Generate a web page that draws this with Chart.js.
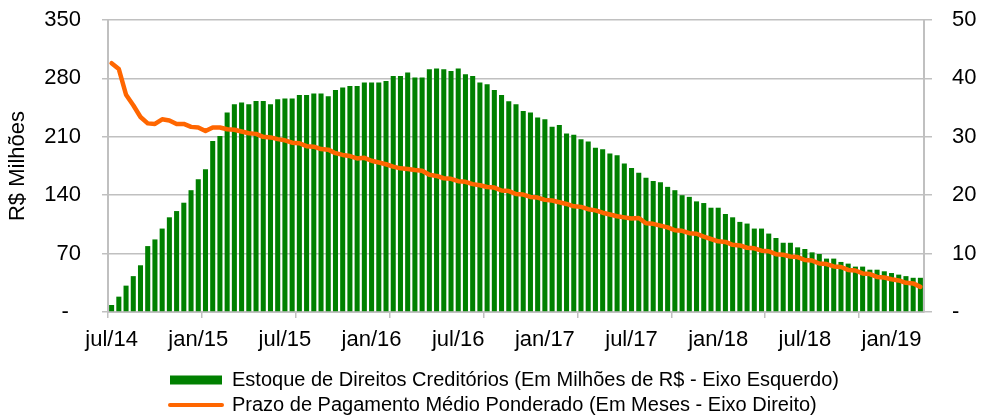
<!DOCTYPE html>
<html><head><meta charset="utf-8">
<script src="https://cdn.jsdelivr.net/npm/chart.js@4/dist/chart.umd.min.js"></script>
<style>html,body{margin:0;padding:0;background:#fff}</style>
</head><body>
<canvas id="c" width="984" height="417"></canvas>
<script>
// Months covered (two observations per month)
const months = [
  'jul/14','ago/14','set/14','out/14','nov/14','dez/14',
  'jan/15','fev/15','mar/15','abr/15','mai/15','jun/15','jul/15','ago/15','set/15','out/15','nov/15','dez/15',
  'jan/16','fev/16','mar/16','abr/16','mai/16','jun/16','jul/16','ago/16','set/16','out/16','nov/16','dez/16',
  'jan/17','fev/17','mar/17','abr/17','mai/17','jun/17','jul/17','ago/17','set/17','out/17','nov/17','dez/17',
  'jan/18','fev/18','mar/18','abr/18','mai/18','jun/18','jul/18','ago/18','set/18','out/18','nov/18','dez/18',
  'jan/19','fev/19','mar/19'
];
const categories = months.flatMap(m => [m + ' (1ª quinzena)', m + ' (2ª quinzena)']).slice(0, 113);

// Estoque de Direitos Creditórios (R$ milhões) - left axis
const stockValues = [
  8.4, 18.4, 31.6, 43, 56, 79, 87, 100, 113.5, 121,
  131, 146, 159, 171, 205, 211, 239, 249, 251, 249,
  253, 253, 249, 255, 256, 256, 260, 260, 262, 262,
  258.5, 266, 269, 271, 271, 275, 275, 275, 277, 283,
  283, 287, 281, 281, 291, 292, 291, 289, 292, 285,
  283, 275, 273, 266, 260, 252.5, 249, 241, 239, 233,
  231, 222, 224, 214, 212.5, 207, 204.5, 197, 195, 190,
  188, 178, 172.6, 167, 161, 157, 155.5, 150, 146, 140,
  138, 132.6, 130.6, 125, 125, 117.5, 113.5, 108, 106, 100,
  100, 94, 88.7, 83, 83, 77.5, 75.5, 71.5, 69.5, 64,
  64, 60, 58, 54.4, 54.4, 50.7, 50.7, 48.8, 46.7, 44.8,
  43, 41, 41
];

// Prazo de Pagamento Médio Ponderado (meses) - right axis
const termValues = [
  42.6, 41.6, 37.2, 35.4, 33.4, 32.3, 32.2, 33.0, 32.8, 32.2,
  32.2, 31.7, 31.6, 31.0, 31.6, 31.6, 31.3, 31.2, 30.9, 30.6,
  30.5, 30.0, 29.9, 29.6, 29.4, 29.0, 28.9, 28.4, 28.3, 27.9,
  27.8, 27.2, 26.9, 26.7, 26.3, 26.4, 25.9, 25.6, 25.3, 24.9,
  24.6, 24.5, 24.3, 24.2, 23.5, 23.3, 22.9, 22.8, 22.4, 22.3,
  21.9, 21.7, 21.4, 21.3, 20.8, 20.7, 20.2, 20.1, 19.7, 19.6,
  19.2, 19.1, 18.8, 18.5, 18.1, 18.0, 17.6, 17.4, 17.0, 16.7,
  16.4, 16.2, 16.0, 16.1, 15.2, 15.1, 14.8, 14.5, 14.0, 13.9,
  13.5, 13.4, 12.9, 12.5, 12.1, 12.0, 11.5, 11.4, 11.0, 10.9,
  10.5, 10.4, 9.9, 9.8, 9.5, 9.4, 8.9, 8.8, 8.3, 8.2,
  7.8, 7.7, 7.2, 7.1, 6.6, 6.5, 6.0, 5.9, 5.6, 5.4,
  5.0, 4.9, 4.3
];

const leftTicks = [0, 70, 140, 210, 280, 350];
const rightTicks = [0, 10, 20, 30, 40, 50];
const seriesNames = [
  'Estoque de Direitos Creditórios (Em Milhões de R$ - Eixo Esquerdo)',
  'Prazo de Pagamento Médio Ponderado (Em Meses - Eixo Direito)'
];

const GREEN = '#008000', ORANGE = '#ff6600', GRAY = '#c0c0c0';
const FONT = "'Liberation Sans', Arial, sans-serif";
Chart.defaults.color = '#000';
Chart.defaults.font.family = FONT;

// Legend rows share one left edge and sit a little lower, as in the original
const legendRowStart = 170;
const legendShiftDown = 8;
const legendLayout = {
  id: 'legendLayout',
  afterLayout(chart) {
    const lg = chart.legend;
    if (!lg || !lg.lineWidths) return;
    const pad = lg.options.labels.padding;
    const w = lg.left + pad + lg.right - 2 * legendRowStart;
    lg.lineWidths = lg.lineWidths.map(() => w);
    lg.top += legendShiftDown;
    lg.bottom += legendShiftDown;
  }
};

const fixYScale = width => s => { s.width = width; s.paddingTop = 0; s.paddingBottom = 0; };

new Chart(document.getElementById('c'), {
  type: 'bar',
  data: {
    labels: categories,
    datasets: [
      {
        type: 'bar', label: seriesNames[0], data: stockValues, yAxisID: 'y',
        backgroundColor: GREEN, borderWidth: 0, pointStyle: 'rect',
        categoryPercentage: 1.0, barPercentage: 0.7, order: 2
      },
      {
        type: 'line', label: seriesNames[1], data: termValues, yAxisID: 'y2',
        borderColor: ORANGE, backgroundColor: ORANGE, borderWidth: 4.5,
        borderJoinStyle: 'round', borderCapStyle: 'round',
        pointRadius: 0, pointHoverRadius: 0, pointStyle: 'line',
        pointBorderColor: ORANGE, pointBackgroundColor: ORANGE, pointBorderWidth: 4,
        tension: 0, order: 1
      }
    ]
  },
  options: {
    responsive: false,
    animation: false,
    devicePixelRatio: 1,
    layout: { padding: { top: 20, bottom: 0, left: 0, right: 0 } },
    plugins: {
      tooltip: { enabled: false },
      legend: {
        position: 'bottom',
        labels: {
          usePointStyle: true, pointStyleWidth: 52, boxHeight: 9, padding: 5,
          font: { size: 20, family: FONT }, color: '#000',
          sort: (a, b) => a.datasetIndex - b.datasetIndex,
          generateLabels(chart) {
            const items = Chart.defaults.plugins.legend.labels.generateLabels(chart);
            items.forEach(it => {
              if (it.datasetIndex === 1) { it.lineCap = 'round'; it.lineWidth = 4; it.strokeStyle = ORANGE; }
              else { it.lineWidth = 0; it.fillStyle = GREEN; }
            });
            return items;
          }
        }
      }
    },
    scales: {
      x: {
        type: 'category', offset: true,
        grid: {
          offset: true, drawOnChartArea: false, drawTicks: true, tickLength: 6, lineWidth: 1.5,
          color: c => (c.index !== undefined && c.index % 13 === 0) ? GRAY : 'rgba(0,0,0,0)'
        },
        border: { color: GRAY, width: 2 },
        ticks: {
          autoSkip: false, maxRotation: 0, minRotation: 0, padding: 9,
          font: { size: 22, family: FONT }, color: '#000',
          callback: (v, i) => (i % 12 === 0) ? months[i / 2] : ''
        },
        afterFit: s => { s.height = 45; }
      },
      y: {
        position: 'left', min: leftTicks[0], max: leftTicks[leftTicks.length - 1],
        afterBuildTicks: s => { s.ticks = leftTicks.map(v => ({ value: v })); },
        grid: { color: GRAY, lineWidth: 1.5, tickLength: 6 },
        border: { color: GRAY, width: 2 },
        ticks: {
          padding: 21, font: { size: 22, family: FONT }, color: '#000',
          callback: v => v === 0 ? '-  ' : v
        },
        title: { display: true, text: 'R$ Milhões', font: { size: 22, family: FONT }, color: '#000', padding: { top: 5, bottom: 0 } },
        afterFit: fixYScale(108)
      },
      y2: {
        position: 'right', min: rightTicks[0], max: rightTicks[rightTicks.length - 1],
        afterBuildTicks: s => { s.ticks = rightTicks.map(v => ({ value: v })); },
        grid: { drawOnChartArea: false, color: GRAY, lineWidth: 1.5, tickLength: 8 },
        border: { color: GRAY, width: 2 },
        ticks: {
          padding: 20, font: { size: 22, family: FONT }, color: '#000',
          callback: v => v === 0 ? '-' : v
        },
        afterFit: fixYScale(60)
      }
    }
  },
  plugins: [legendLayout]
});
</script>
</body></html>
